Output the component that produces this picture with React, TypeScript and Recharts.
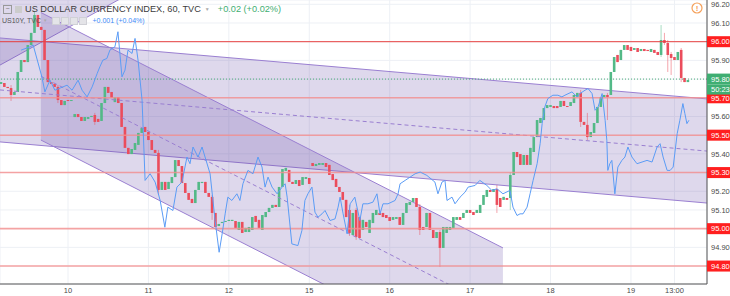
import React from 'react';
import {
  ComposedChart, Bar, Area, Line, XAxis, YAxis, CartesianGrid, ReferenceLine,
} from 'recharts';

// hourly candles, first one 20 hours before the 10th 00:00
const START_HOUR = -20;

const OPEN = [
  95.774, 95.779, 95.758, 95.752, 95.715, 95.731, 95.838, 95.902, 95.891, 95.982,
  96.047, 96.143, 96.079, 96.063, 95.902, 95.784, 95.774, 95.758, 95.688, 95.661,
  95.688, 95.683, 95.597, 95.613, 95.597, 95.576, 95.587, 95.597, 95.608, 95.587,
  95.576, 95.672, 95.758, 95.731, 95.677, 95.704, 95.672, 95.544, 95.432, 95.399,
  95.421, 95.448, 95.512, 95.544, 95.517, 95.474, 95.421, 95.405, 95.207, 95.250,
  95.212, 95.244, 95.276, 95.367, 95.335, 95.244, 95.191, 95.159, 95.137, 95.207,
  95.244, 95.250, 95.191, 95.170, 95.084, 95.014, 95.030, 95.036, 95.041, 95.041,
  95.041, 94.993, 95.036, 94.982, 94.982, 94.993, 95.068, 95.047, 94.993, 95.062,
  95.089, 95.111, 95.127, 95.116, 95.223, 95.309, 95.314, 95.250, 95.239, 95.260,
  95.234, 95.266, 95.271, 95.351, 95.335, 95.341, 95.341, 95.351, 95.341, 95.292,
  95.266, 95.223, 95.196, 95.154, 95.100, 94.966, 95.100, 95.062, 94.993, 95.036,
  94.977, 95.030, 95.073, 95.084, 95.084, 95.073, 95.062, 95.047, 95.052, 95.062,
  95.020, 95.084, 95.127, 95.143, 95.164, 95.116, 95.009, 95.009, 95.084, 94.993,
  94.950, 94.982, 94.897, 94.977, 94.993, 95.004, 95.047, 95.062, 95.057, 95.084,
  95.100, 95.089, 95.084, 95.084, 95.127, 95.170, 95.207, 95.196, 95.212, 95.164,
  95.154, 95.164, 95.164, 95.287, 95.410, 95.399, 95.341, 95.394, 95.341, 95.410,
  95.490, 95.565, 95.581, 95.645, 95.651, 95.656, 95.656, 95.651, 95.683, 95.656,
  95.656, 95.672, 95.704, 95.726, 95.571, 95.555, 95.490, 95.512, 95.565, 95.651,
  95.704, 95.715, 95.715, 95.838, 95.929, 95.902, 95.956, 95.982, 95.972, 95.956,
  95.966, 95.950, 95.961, 95.956, 95.945, 95.956, 95.945, 95.929, 96.009, 95.993,
  95.934, 95.918, 95.902, 95.956, 95.806, 95.784,
];

const CLOSE = [
  95.784, 95.758, 95.752, 95.715, 95.731, 95.838, 95.902, 95.891, 95.982, 96.047,
  96.143, 96.079, 96.063, 95.902, 95.784, 95.774, 95.758, 95.688, 95.661, 95.683,
  95.683, 95.688, 95.613, 95.597, 95.576, 95.597, 95.597, 95.603, 95.571, 95.571,
  95.672, 95.758, 95.726, 95.699, 95.704, 95.672, 95.544, 95.432, 95.399, 95.426,
  95.458, 95.512, 95.538, 95.517, 95.474, 95.421, 95.405, 95.207, 95.250, 95.207,
  95.250, 95.276, 95.367, 95.335, 95.244, 95.191, 95.154, 95.137, 95.207, 95.250,
  95.250, 95.191, 95.170, 95.084, 95.009, 95.025, 95.036, 95.041, 95.047, 95.047,
  95.004, 95.036, 94.977, 95.004, 95.009, 95.062, 95.036, 95.004, 95.073, 95.089,
  95.111, 95.127, 95.116, 95.223, 95.319, 95.325, 95.250, 95.239, 95.260, 95.228,
  95.276, 95.276, 95.239, 95.335, 95.346, 95.351, 95.351, 95.330, 95.287, 95.260,
  95.223, 95.196, 95.154, 95.062, 94.977, 95.084, 94.956, 94.950, 95.047, 95.009,
  95.047, 95.084, 95.100, 95.073, 95.062, 95.057, 95.041, 95.062, 95.062, 95.020,
  95.084, 95.137, 95.143, 95.164, 95.116, 94.993, 94.993, 95.084, 94.993, 94.950,
  94.982, 94.897, 95.009, 95.009, 95.009, 95.062, 95.062, 95.047, 95.084, 95.100,
  95.084, 95.073, 95.100, 95.127, 95.180, 95.207, 95.196, 95.212, 95.127, 95.116,
  95.170, 95.154, 95.287, 95.410, 95.383, 95.341, 95.394, 95.341, 95.432, 95.490,
  95.581, 95.592, 95.645, 95.661, 95.661, 95.645, 95.645, 95.683, 95.656, 95.651,
  95.677, 95.715, 95.726, 95.571, 95.555, 95.490, 95.517, 95.565, 95.651, 95.704,
  95.715, 95.704, 95.838, 95.918, 95.891, 95.956, 95.982, 95.956, 95.950, 95.966,
  95.945, 95.961, 95.950, 95.950, 95.961, 95.940, 95.929, 96.009, 95.993, 95.929,
  95.913, 95.902, 95.945, 95.806, 95.784, 95.795,
];

// [candle index, high, low] for candles with visible wicks
const WICKS: [number, number, number][] = [
  [3, 95.768, 95.683], [10, 96.159, 96.047], [17, 95.768, 95.672], [28, 95.619, 95.555],
  [47, 95.421, 95.180], [63, 95.180, 95.047], [104, 95.127, 94.961], [106, 95.111, 94.940],
  [125, 95.132, 94.966], [131, 94.993, 94.795], [148, 95.234, 95.084], [152, 95.303, 95.100],
  [173, 95.742, 95.544], [175, 95.619, 95.474], [181, 95.726, 95.581], [197, 96.089, 95.918],
  [198, 96.047, 95.982], [199, 96.009, 95.838], [200, 95.945, 95.822], [203, 95.966, 95.784],
];

// US10Y overlay: [hour, yield]
const US10Y: [number, number][] = [
  [-14.0, 2.960], [-11.3, 2.962], [-10.4, 2.963], [-7.8, 2.944], [-6.9, 2.935], [-5.4, 2.942],
  [-3.9, 2.936], [-0.3, 2.939], [1.2, 2.936], [3.0, 2.942], [4.2, 2.936], [5.7, 2.932],
  [7.2, 2.938], [8.7, 2.946], [9.5, 2.950], [10.4, 2.954], [11.6, 2.955], [12.5, 2.960],
  [14.0, 2.962], [14.9, 2.971], [16.1, 2.944], [17.0, 2.948], [17.9, 2.960], [19.1, 2.958],
  [20.0, 2.967], [20.9, 2.954], [22.1, 2.930], [23.0, 2.882], [24.5, 2.886], [26.0, 2.881],
  [27.5, 2.870], [28.9, 2.854], [29.8, 2.866], [31.3, 2.864], [32.5, 2.878], [34.0, 2.881],
  [35.5, 2.896], [36.4, 2.892], [37.3, 2.902], [38.8, 2.896], [40.0, 2.902], [40.9, 2.896],
  [42.4, 2.886], [43.9, 2.858], [45.1, 2.839], [46.0, 2.850], [46.9, 2.862], [47.7, 2.872],
  [48.9, 2.870], [50.4, 2.874], [51.3, 2.870], [52.2, 2.880], [53.7, 2.888], [55.2, 2.886],
  [56.7, 2.896], [57.9, 2.890], [58.8, 2.878], [59.7, 2.884], [60.9, 2.878], [62.4, 2.874],
  [63.9, 2.878], [64.8, 2.880], [65.4, 2.872], [66.8, 2.844], [68.6, 2.843], [69.8, 2.852],
  [70.7, 2.870], [71.6, 2.874], [72.8, 2.878], [73.7, 2.863], [74.6, 2.860], [75.8, 2.862],
  [76.7, 2.864], [78.2, 2.858], [79.7, 2.859], [80.6, 2.866], [81.2, 2.872], [82.1, 2.862],
  [83.3, 2.850], [84.2, 2.868], [85.6, 2.872], [87.1, 2.858], [88.0, 2.868], [89.5, 2.868],
  [91.0, 2.869], [92.2, 2.874], [93.1, 2.862], [94.0, 2.868], [95.5, 2.868], [97.6, 2.870],
  [98.5, 2.874], [99.1, 2.880], [100.6, 2.882], [102.1, 2.884], [103.6, 2.886], [105.1, 2.887],
  [107.1, 2.885], [109.5, 2.881], [110.4, 2.874], [111.6, 2.881], [112.5, 2.882], [113.1, 2.870],
  [114.6, 2.872], [115.5, 2.868], [117.0, 2.872], [118.5, 2.875], [119.4, 2.878], [121.5, 2.879],
  [122.9, 2.882], [125.0, 2.879], [126.5, 2.876], [128.0, 2.877], [129.8, 2.874], [131.9, 2.876],
  [132.8, 2.866], [134.0, 2.861], [134.9, 2.862], [135.8, 2.862], [137.0, 2.866], [137.9, 2.874],
  [138.8, 2.882], [140.0, 2.892], [140.9, 2.904], [141.5, 2.916], [142.3, 2.926], [143.2, 2.931],
  [144.7, 2.933], [146.2, 2.933], [147.4, 2.932], [148.3, 2.933], [150.4, 2.935], [151.9, 2.932],
  [152.8, 2.934], [154.3, 2.936], [155.2, 2.937], [156.4, 2.934], [157.3, 2.924], [158.2, 2.926],
  [159.4, 2.934], [160.3, 2.918], [160.8, 2.906], [161.1, 2.888], [161.7, 2.892], [162.3, 2.894],
  [163.2, 2.874], [164.1, 2.890], [165.3, 2.894], [166.2, 2.896], [167.1, 2.902], [168.3, 2.896],
  [169.8, 2.892], [171.3, 2.893], [172.8, 2.894], [174.3, 2.893], [175.8, 2.902], [176.7, 2.904],
  [177.6, 2.896], [178.8, 2.888], [179.7, 2.888], [180.6, 2.890], [181.8, 2.910], [182.6, 2.918],
  [183.5, 2.928], [184.1, 2.922], [184.7, 2.916], [185.3, 2.918],
];

// drawn channels: [hour, lower, upper]
const WIDE_CHANNEL: [number, number, number][] = [[-20.3, 95.464, 96.020], [190.7, 95.137, 95.694]];
const WIDE_MID: [number, number][] = [[-20.3, 95.742], [190.7, 95.415]];
const STEEP_CHANNEL: [number, number, number][] = [[-8.1, 95.474, 96.156], [129.8, 94.214, 94.897]];
const STEEP_MID: [number, number][] = [[-8.1, 95.815], [129.8, 94.554]];
const RISING_CHANNEL: [number, number, number][] = [[-20.3, 95.875, 96.6], [18.5, 96.258, 96.8]];

const DAY_TICKS = [0, 24, 48, 72, 96, 120, 144, 168, 181];
const DAY_LABELS = ['10', '11', '12', '15', '16', '17', '18', '19', '13:00'];

const PRICE_TICKS = [94.8, 94.9, 95.0, 95.1, 95.2, 95.3, 95.4, 95.5, 95.6, 95.7, 95.8, 95.9, 96.0, 96.1, 96.2];
const RED_LEVELS = [96.0, 95.7, 95.5, 95.3, 95.0, 94.8];
const LAST_PRICE = 95.8;

const UP = '#53b987';
const DOWN = '#eb4d5c';
const CH_FILL = '#6a4fa8';
const CH_LINE = '#9a7fd1';
const FONT = '"Liberation Sans", Arial, sans-serif';

const candles = OPEN.map((o, i) => {
  const c = CLOSE[i];
  const w = WICKS.find(k => k[0] === i);
  const high = w ? w[1] : Math.max(o, c);
  const low = w ? w[2] : Math.min(o, c);
  return { hour: START_HOUR + i, open: o, close: c, range: [low, high] };
});

const toBand = (rows: [number, number, number][]) => rows.map(r => ({ hour: r[0], band: [r[1], r[2]] }));
const toMid = (rows: [number, number][]) => rows.map(r => ({ hour: r[0], mid: r[1] }));
const yieldData = US10Y.map(r => ({ hour: r[0], yld: r[1] }));

const Candle = (props: any) => {
  const { x, y, width, height, payload } = props;
  if (!payload || height == null) return null;
  const [low, high] = payload.range;
  const cx = x + width / 2;
  const k = high - low > 0 ? height / (high - low) : 0;
  const yo = y + (high - payload.open) * k;
  const yc = y + (high - payload.close) * k;
  const color = payload.close >= payload.open ? UP : DOWN;
  const top = Math.min(yo, yc);
  const h = Math.max(Math.abs(yo - yc), 1);
  return (
    <g>
      <line x1={cx} x2={cx} y1={y} y2={y + height} stroke={color} strokeOpacity={0.5} />
      <rect x={cx - 1.3} y={top} width={2.6} height={h} fill={color} />
    </g>
  );
};

const same = (a: number, b: number) => Math.abs(a - b) < 1e-6;

const PriceTick = (props: any) => {
  const { y, payload } = props;
  const v = payload.value as number;
  const label = v.toFixed(2);
  const red = RED_LEVELS.some(l => same(l, v));
  const last = same(v, LAST_PRICE);
  if (red || last) {
    return (
      <g>
        <rect x={707} y={y - 5.5} width={23} height={11} fill={red ? '#ff1f1f' : '#3fae72'} />
        <text x={711} y={y + 2.8} fontSize={7.5} fill="#fff" fontFamily={FONT}>{label}</text>
        {last && (
          <g>
            <rect x={707} y={y + 5.5} width={23} height={10} fill="#3fae72" />
            <text x={711} y={y + 13.3} fontSize={7.5} fill="#fff" fontFamily={FONT}>50:23</text>
          </g>
        )}
      </g>
    );
  }
  return <text x={711} y={y + 2.8} fontSize={7.5} fill="#4a4a4a" fontFamily={FONT}>{label}</text>;
};

const DayTick = (props: any) => {
  const { x, payload } = props;
  const i = DAY_TICKS.indexOf(payload.value);
  return (
    <text x={x} y={293} textAnchor="middle" fontSize={7.5} fill="#4a4a4a" fontFamily={FONT}>
      {DAY_LABELS[i]}
    </text>
  );
};

export default function App() {
  return (
    <div style={{ position: 'absolute', left: 0, top: 0, width: 730, height: 296, background: '#fff', fontFamily: FONT }}>
      <ComposedChart width={730} height={296} data={candles} margin={{ top: 0, right: 0, bottom: 0, left: 0 }}>
        <CartesianGrid stroke="#edf0f5" />
        <XAxis
          dataKey="hour" type="number" domain={[-20.3, 190.7]} allowDataOverflow
          ticks={DAY_TICKS} tick={<DayTick />} tickLine={false} height={12}
          axisLine={{ stroke: '#555' }} interval={0}
        />
        <YAxis
          orientation="right" domain={[94.704, 96.223]} allowDataOverflow ticks={PRICE_TICKS}
          tick={<PriceTick />} tickLine={false} width={23} axisLine={{ stroke: '#555' }} interval={0}
        />
        <YAxis yAxisId="yield" hide domain={[2.82, 2.99]} allowDataOverflow />

        <Area data={toBand(RISING_CHANNEL)} dataKey="band" type="linear" fill={CH_FILL} fillOpacity={0.22} stroke={CH_LINE} strokeWidth={1} isAnimationActive={false} />
        <Area data={toBand(WIDE_CHANNEL)} dataKey="band" type="linear" fill={CH_FILL} fillOpacity={0.22} stroke={CH_LINE} strokeWidth={1} isAnimationActive={false} />
        <Area data={toBand(STEEP_CHANNEL)} dataKey="band" type="linear" fill={CH_FILL} fillOpacity={0.22} stroke={CH_LINE} strokeWidth={1} isAnimationActive={false} />
        <Line data={toMid(WIDE_MID)} dataKey="mid" type="linear" stroke={CH_LINE} strokeDasharray="4 3" dot={false} isAnimationActive={false} />
        <Line data={toMid(STEEP_MID)} dataKey="mid" type="linear" stroke={CH_LINE} strokeDasharray="4 3" dot={false} isAnimationActive={false} />

        {RED_LEVELS.map(l => (
          <ReferenceLine key={l} y={l} stroke={same(l, 96.0) ? '#e8403f' : '#f58f8f'} strokeWidth={same(l, 96.0) ? 1 : 1.6} strokeOpacity={same(l, 96.0) ? 1 : 0.8} />
        ))}
        <ReferenceLine y={LAST_PRICE} stroke="#4caf78" strokeDasharray="1 2" />

        <Line data={yieldData} yAxisId="yield" dataKey="yld" type="linear" stroke="#5b9cf6" strokeWidth={1} dot={false} isAnimationActive={false} />
        <Bar dataKey="range" barSize={3} shape={<Candle />} isAnimationActive={false} />
      </ComposedChart>

      <div style={{ position: 'absolute', left: 3, top: 4, display: 'flex', alignItems: 'center', whiteSpace: 'nowrap', fontSize: 9.2, lineHeight: '10px' }}>
        <span style={{ display: 'inline-block', width: 7, height: 7, border: '1px solid #999', marginRight: 3, fontSize: 7, lineHeight: '6px', textAlign: 'center', color: '#777' }}>−</span>
        <span style={{ display: 'inline-block', width: 7, height: 7, background: '#ccc', marginRight: 3 }} />
        <span style={{ color: '#3b3b3b' }}>US DOLLAR CURRENCY INDEX, 60, TVC</span>
        <span style={{ color: '#aaa', fontSize: 5, margin: '0 8px 0 4px' }}>▼</span>
        <span style={{ color: '#3fae72' }}>+0.02 (+0.02%)</span>
      </div>
      <div style={{ position: 'absolute', left: 2, top: 17, display: 'flex', alignItems: 'center', whiteSpace: 'nowrap', fontSize: 7, lineHeight: '8px' }}>
        <span style={{ color: '#555' }}>US10Y, TVC</span>
        <span style={{ color: '#aaa', fontSize: 4.5, margin: '0 4px 0 2px' }}>▼</span>
        {[0, 1, 2, 3].map(i => (
          <span key={i} style={{ display: 'inline-block', width: 6, height: 6, background: '#e4e4e8', border: '1px solid #d0d0d6', marginRight: 1 }} />
        ))}
        <span style={{ color: '#3d8af7', marginLeft: 5 }}>+0.001 (+0.04%)</span>
      </div>
      <svg style={{ position: 'absolute', left: 691, top: 2 }} width={12} height={12}>
        <circle cx={6} cy={6} r={5} fill="#fff" stroke="#f5a05a" strokeWidth={1.2} />
        <text x={6} y={9} textAnchor="middle" fontSize={8} fill="#f5a05a" fontFamily={FONT} fontWeight="bold">!</text>
      </svg>
    </div>
  );
}
